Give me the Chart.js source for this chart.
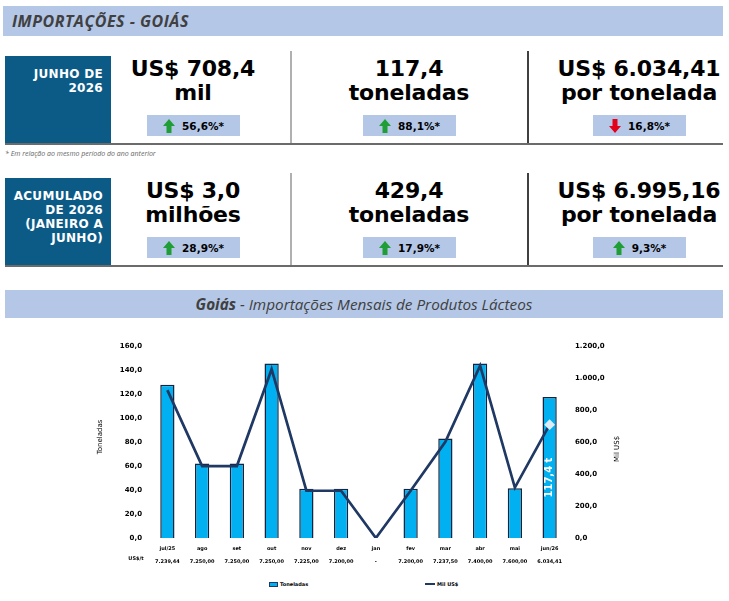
<!DOCTYPE html>
<html lang="pt-BR">
<head>
<meta charset="utf-8">
<title>Importações - Goiás</title>
<script src="https://cdn.jsdelivr.net/npm/chart.js@4.4.1/dist/chart.umd.min.js"></script>
<style>
  body { margin: 0; background: #fff; }
  #page { position: relative; width: 729px; height: 601px; overflow: hidden; font-family: "DejaVu Sans", sans-serif; }
  .barra { position: absolute; background: #b4c7e7; }
  .titulo { position: absolute; left: 12px; top: 6px; height: 30px; line-height: 30px; font-family: "Open Sans", sans-serif; font-weight: 700; font-style: italic; font-size: 16px; letter-spacing: 0.5px; color: #404040; }
  .caixa { position: absolute; left: 5px; width: 106px; background: #0c5b87; }
  .caixa div { position: absolute; right: 8px; text-align: right; color: #fff; font-weight: 700; font-size: 12px; line-height: 14px; letter-spacing: 0.3px; }
  .valor { position: absolute; width: 220px; text-align: center; font-weight: 700; font-size: 22px; line-height: 24px; color: #000; letter-spacing: -0.2px; }
  .selo { position: absolute; width: 93px; height: 21px; background: #b4c7e7; display: flex; align-items: center; justify-content: center; gap: 7px; font-weight: 700; font-size: 10.5px; color: #000; }
  .selo svg { display: block; }
  .sep { position: absolute; width: 1.5px; }
  .linha { position: absolute; left: 5px; width: 718px; height: 1.5px; background: #6b6b6b; }
  .nota { position: absolute; left: 5px; top: 149px; font-family: "Open Sans", sans-serif; font-style: italic; font-size: 7px; color: #666; }
  .subtitulo { position: absolute; left: 5px; top: 290px; width: 718px; height: 28px; line-height: 28px; text-align: center; font-family: "Open Sans", sans-serif; font-style: italic; font-size: 15.3px; color: #404040; }
  #grafico { position: absolute; left: 85px; top: 328px; width: 560px; height: 240px; }
  .leg { position: absolute; top: 581px; font-family: "DejaVu Sans", sans-serif; font-weight: 700; font-size: 5px; color: #000; display: flex; align-items: center; gap: 2px; }
</style>
</head>
<body>
<div id="page">
  <div class="barra" style="left:3px; top:6px; width:720px; height:30px;"></div>
  <div class="titulo">IMPORTAÇÕES - GOIÁS</div>

  <div id="linha1"></div>
  <div class="nota">* Em relação ao mesmo período do ano anterior</div>
  <div id="linha2"></div>

  <div class="barra" style="left:5px; top:290px; width:718px; height:28px;"></div>
  <div class="subtitulo"><b>Goiás</b> - Importações Mensais de Produtos Lácteos</div>

  <canvas id="grafico" width="560" height="240"></canvas>
  <div id="legenda"></div>
</div>

<script>
// dados do grafico
const meses = ['jul/25', 'ago', 'set', 'out', 'nov', 'dez', 'jan', 'fev', 'mar', 'abr', 'mai', 'jun/26'];
const toneladas = [127.7, 62.0, 62.0, 145.5, 41.0, 41.0, 0, 41.0, 83.0, 145.5, 41.5, 117.4];
const milUS = [924.5, 449.5, 449.5, 1054.9, 296.2, 295.2, 0, 295.2, 600.7, 1076.7, 315.4, 708.4];
const precoTonelada = ['7.239,44', '7.250,00', '7.250,00', '7.250,00', '7.225,00', '7.200,00', '-', '7.200,00', '7.237,50', '7.400,00', '7.600,00', '6.034,41'];
const ticksToneladas = [0, 20, 40, 60, 80, 100, 120, 140, 160];
const ticksMilUS = [0, 200, 400, 600, 800, 1000, 1200];

// cartoes do topo
const cartoesJunho = [
    { valor: ['US$ 708,4', 'mil'], variacao: '56,6%*', sobe: true },
    { valor: ['117,4', 'toneladas'], variacao: '88,1%*', sobe: true },
    { valor: ['US$ 6.034,41', 'por tonelada'], variacao: '16,8%*', sobe: false }
];
const cartoesAcumulado = [
    { valor: ['US$ 3,0', 'milhões'], variacao: '28,9%*', sobe: true },
    { valor: ['429,4', 'toneladas'], variacao: '17,9%*', sobe: true },
    { valor: ['US$ 6.995,16', 'por tonelada'], variacao: '9,3%*', sobe: true }
];

const centrosColunas = [193, 409, 639];

function seta(sobe) {
    if (sobe) {
        return '<svg width="12" height="14" viewBox="0 0 12 14"><path d="M6 0 L12 7 L8.5 7 L8.5 14 L3.5 14 L3.5 7 L0 7 Z" fill="#1f9e35"/></svg>';
    }
    return '<svg width="12" height="14" viewBox="0 0 12 14"><path d="M6 14 L12 7 L8.5 7 L8.5 0 L3.5 0 L3.5 7 L0 7 Z" fill="#e3001b"/></svg>';
}

function montarLinha(id, topo, rotulo, cartoes) {
    const el = document.getElementById(id);
    let html = `<div class="caixa" style="top:${topo + 5}px; height:${88}px;">`;
    rotulo.forEach((txt, i) => {
        html += `<div style="top:${11 + i * 14}px;">${txt}</div>`;
    });
    html += '</div>';

    html += `<div class="sep" style="left:290px; top:${topo}px; height:${93}px; background:#b0b0b0;"></div>`;
    html += `<div class="sep" style="left:527px; top:${topo}px; height:${93}px; background:#404040;"></div>`;
    html += `<div class="linha" style="top:${topo + 92}px;"></div>`;

    cartoes.forEach((c, i) => {
        const cx = centrosColunas[i];
        html += `<div class="valor" style="left:${cx - 110}px; top:${topo + 6}px;">${c.valor[0]}<br>${c.valor[1]}</div>`;
        html += `<div class="selo" style="left:${cx - 46}px; top:${topo + 64}px;">${seta(c.sobe)}<span>${c.variacao}</span></div>`;
    });
    el.innerHTML = html;
}

montarLinha('linha1', 51, ['JUNHO DE', '2026'], cartoesJunho);
montarLinha('linha2', 173, ['ACUMULADO', 'DE 2026', '(JANEIRO A', 'JUNHO)'], cartoesAcumulado);

function formatar1(v) {
    const partes = Math.abs(v).toFixed(1).split('.');
    const inteiro = partes[0].replace(/\B(?=(\d{3})+(?!\d))/g, '.');
    return (v < 0 ? '-' : '') + inteiro + ',' + partes[1];
}

const corBarra = '#00b0f0';
const corLinha = '#1f3864';

// rotulos extras: titulos dos eixos, linha US$/t e valor da ultima barra
const rotulosExtras = {
    id: 'rotulosExtras',
    afterDatasetsDraw(chart) {
        const ctx = chart.ctx;
        const barra = chart.getDatasetMeta(1).data[toneladas.length - 1];
        if (barra) {
            ctx.save();
            ctx.translate(barra.x, (barra.y + barra.base) / 2 + 10);
            ctx.rotate(-Math.PI / 2);
            ctx.fillStyle = '#ffffff';
            ctx.font = 'bold 10px "DejaVu Sans"';
            ctx.textAlign = 'center';
            ctx.textBaseline = 'middle';
            ctx.fillText(formatar1(toneladas[toneladas.length - 1]) + ' t', 0, 0);
            ctx.restore();
        }
    },
    afterDraw(chart) {
        const ctx = chart.ctx;
        const area = chart.chartArea;
        ctx.save();
        ctx.fillStyle = '#000';
        ctx.font = 'bold 5px "DejaVu Sans"';
        ctx.textAlign = 'center';
        ctx.textBaseline = 'middle';
        ctx.fillText('US$/t', area.left - 14, area.bottom + 21);

        ctx.font = '7px "DejaVu Sans"';
        ctx.save();
        ctx.translate(15, area.top + 91);
        ctx.rotate(-Math.PI / 2);
        ctx.fillText('Toneladas', 0, 0);
        ctx.restore();

        ctx.save();
        ctx.translate(532, area.top + 103);
        ctx.rotate(-Math.PI / 2);
        ctx.fillText('Mil US$', 0, 0);
        ctx.restore();
        ctx.restore();
    }
};

const raioPontos = milUS.map((v, i) => i === milUS.length - 1 ? 3.5 : 0);

new Chart(document.getElementById('grafico'), {
    data: {
        labels: meses.map((m, i) => [m, precoTonelada[i]]),
        datasets: [
            {
                type: 'line',
                label: 'Mil US$',
                data: milUS,
                yAxisID: 'yDir',
                borderColor: corLinha,
                borderWidth: 2.7,
                tension: 0,
                pointRadius: raioPontos,
                pointHoverRadius: raioPontos,
                pointStyle: 'rectRot',
                pointBackgroundColor: '#ddebf7',
                pointBorderColor: '#ddebf7',
                order: 0
            },
            {
                type: 'bar',
                label: 'Toneladas',
                data: toneladas,
                yAxisID: 'yEsq',
                backgroundColor: corBarra,
                borderColor: '#14243f',
                borderWidth: 1.5,
                borderSkipped: 'bottom',
                categoryPercentage: 1,
                barPercentage: 0.41,
                order: 1
            }
        ]
    },
    options: {
        responsive: false,
        animation: false,
        layout: { padding: { top: 18, left: 0, right: 0, bottom: 0 } },
        plugins: {
            legend: { display: false },
            tooltip: { enabled: false }
        },
        scales: {
            x: {
                grid: { display: false, drawTicks: false },
                border: { display: false },
                ticks: {
                    autoSkip: false,
                    maxRotation: 0,
                    padding: 5,
                    color: '#000',
                    font: { family: 'DejaVu Sans', size: 5, weight: 'bold', lineHeight: 2.45 }
                },
                afterFit(scale) { scale.height = 30; }
            },
            yEsq: {
                position: 'left',
                min: 0,
                max: 160,
                afterBuildTicks(scale) { scale.ticks = ticksToneladas.map(v => ({ value: v })); },
                grid: { display: false, drawTicks: false },
                border: { display: false },
                ticks: {
                    padding: 8,
                    color: '#000',
                    font: { family: 'DejaVu Sans', size: 7, weight: 'bold' },
                    callback: v => formatar1(v)
                },
                afterFit(scale) { scale.width = 65; }
            },
            yDir: {
                position: 'right',
                min: 0,
                max: 1200,
                afterBuildTicks(scale) { scale.ticks = ticksMilUS.map(v => ({ value: v })); },
                grid: { display: false, drawTicks: false },
                border: { display: false },
                ticks: {
                    padding: 8,
                    color: '#000',
                    font: { family: 'DejaVu Sans', size: 7, weight: 'bold' },
                    callback: v => formatar1(v)
                },
                afterFit(scale) { scale.width = 78; }
            }
        }
    },
    plugins: [rotulosExtras]
});

// legenda em html
const legenda = document.getElementById('legenda');
legenda.innerHTML =
    `<div class="leg" style="left:269px;"><span style="display:inline-block;width:7px;height:3px;background:${corBarra};border:1px solid ${corLinha};"></span><span>Toneladas</span></div>` +
    `<div class="leg" style="left:425px;"><span style="display:inline-block;width:10px;height:2px;background:${corLinha};"></span><span>Mil US$</span></div>`;
</script>
</body>
</html>
